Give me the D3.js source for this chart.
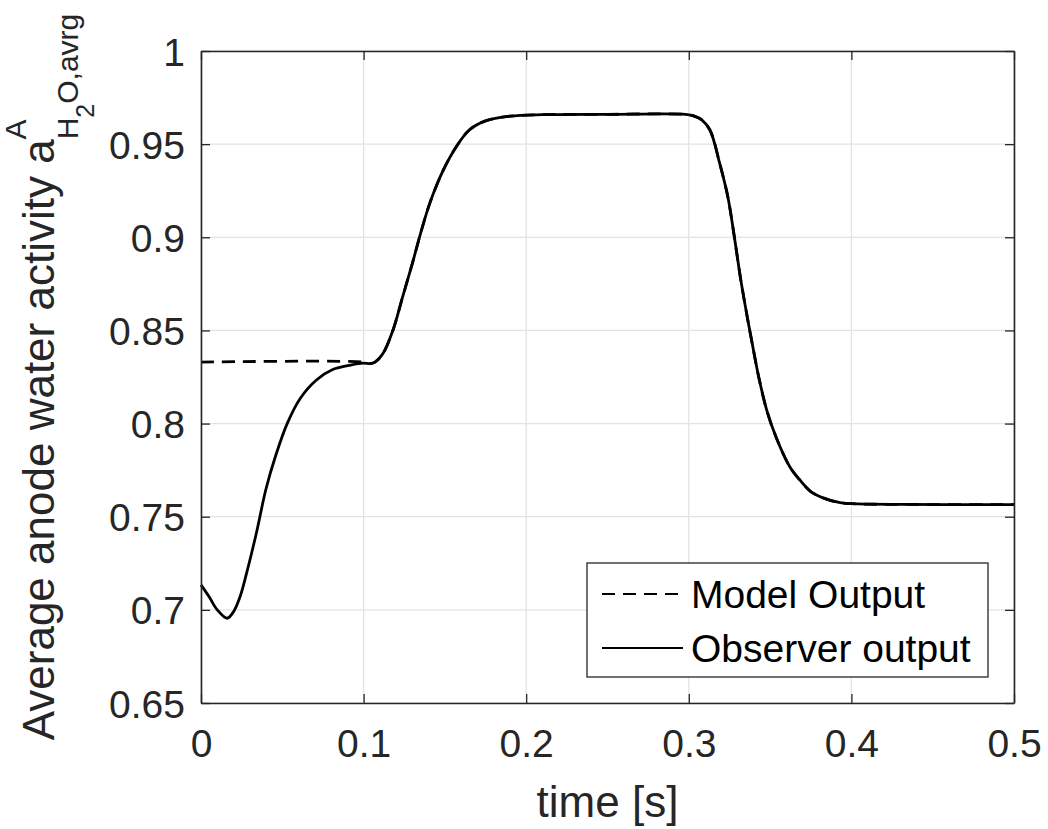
<!DOCTYPE html>
<html>
<head>
<meta charset="utf-8">
<script src="https://cdn.jsdelivr.net/npm/d3@7"></script>
<style>
  body { margin: 0; background: #fff; }
  text { font-family: "Liberation Sans", Arial, sans-serif; fill: #262626; }
</style>
</head>
<body>
<div class="chart"></div>
<script>
// observer output
var obsTime = [0, 0.005, 0.010, 0.016, 0.020, 0.024, 0.028, 0.034, 0.040, 0.046, 0.053, 0.061, 0.071, 0.081, 0.092, 0.100,
  0.104, 0.107, 0.112, 0.118, 0.124, 0.130, 0.135, 0.141, 0.149, 0.157, 0.165, 0.175, 0.190, 0.210, 0.250, 0.298,
  0.303, 0.308, 0.313, 0.319, 0.324, 0.328, 0.332, 0.336, 0.339, 0.343, 0.348, 0.354, 0.362, 0.368, 0.375, 0.383,
  0.393, 0.400, 0.430, 0.500];
var obsVal = [0.7134, 0.707, 0.700, 0.6955, 0.699, 0.707, 0.7196, 0.741, 0.765, 0.783, 0.800, 0.8135, 0.8234, 0.829, 0.8314, 0.8324,
  0.8322, 0.8330, 0.8377, 0.850, 0.868, 0.886, 0.902, 0.919, 0.936, 0.9486, 0.9576, 0.9625, 0.9650, 0.9658, 0.9660, 0.9660,
  0.9652, 0.9630, 0.9576, 0.9397, 0.9218, 0.9003, 0.877, 0.857, 0.843, 0.825, 0.807, 0.792, 0.777, 0.770, 0.7635, 0.760,
  0.7575, 0.757, 0.7566, 0.7565];
// model output: flat at start, then on top of the observer
var modelTime = [0, 0.100];
var modelVal = [0.833, 0.833];
var xTicks = [0, 0.1, 0.2, 0.3, 0.4, 0.5];
var yTicks = [0.65, 0.7, 0.75, 0.8, 0.85, 0.9, 0.95, 1];
var legendNames = ["Model Output", "Observer output"];

var margin = {top: 51, right: 34, bottom: 126, left: 201};
var W = 1048, H = 829;
var width = W - margin.left - margin.right;
var height = H - margin.top - margin.bottom;
var axisColor = "#262626";
var tickFont = "39px", labelFont = "44px";

var svg = d3.select(".chart").append("svg")
    .attr("width", W)
    .attr("height", H);
var g = svg.append("g")
    .attr("transform", "translate(" + margin.left + "," + margin.top + ")");

var x = d3.scaleLinear().domain([0, 0.5]).range([0, width]);
var y = d3.scaleLinear().domain([0.65, 1]).range([height, 0]);

// grid
g.selectAll(".gx").data(xTicks).enter().append("line")
    .attr("x1", function(d) { return x(d); }).attr("x2", function(d) { return x(d); })
    .attr("y1", 0).attr("y2", height)
    .attr("stroke", "#e3e3e3").attr("stroke-width", 1.3);
g.selectAll(".gy").data(yTicks).enter().append("line")
    .attr("y1", function(d) { return y(d); }).attr("y2", function(d) { return y(d); })
    .attr("x1", 0).attr("x2", width)
    .attr("stroke", "#e3e3e3").attr("stroke-width", 1.3);

// lines
var line = d3.line()
    .curve(d3.curveCatmullRom.alpha(0.5))
    .x(function(d) { return x(d[0]); })
    .y(function(d) { return y(d[1]); });

var obsData = obsTime.map(function(t, i) { return [t, obsVal[i]]; });
var modelData = modelTime.map(function(t, i) { return [t, modelVal[i]]; })
    .concat(obsData.filter(function(d) { return d[0] > 0.103; }));

g.append("path")
    .attr("d", line(modelData))
    .attr("fill", "none").attr("stroke", "#000")
    .attr("stroke-width", 2.8)
    .attr("stroke-dasharray", "13,8");
g.append("path")
    .attr("d", line(obsData))
    .attr("fill", "none").attr("stroke", "#000")
    .attr("stroke-width", 2.8);

// axes (ticks inside, box)
var tickLen = 9;
var xAxisB = d3.axisBottom(x).tickValues(xTicks).tickSizeInner(-tickLen).tickSizeOuter(0)
    .tickFormat(function(d) { return d3.format("")(d); });
var yAxisL = d3.axisLeft(y).tickValues(yTicks).tickSizeInner(-tickLen).tickSizeOuter(0)
    .tickFormat(function(d) { return d3.format("")(d); });

var gxB = g.append("g").attr("transform", "translate(0," + height + ")").call(xAxisB);
var gyL = g.append("g").call(yAxisL);
var gxT = g.append("g").call(d3.axisTop(x).tickValues(xTicks).tickSizeInner(-tickLen).tickSizeOuter(0).tickFormat(""));
var gyR = g.append("g").attr("transform", "translate(" + width + ",0)")
    .call(d3.axisRight(y).tickValues(yTicks).tickSizeInner(-tickLen).tickSizeOuter(0).tickFormat(""));

[gxB, gyL, gxT, gyR].forEach(function(a) {
  a.select(".domain").attr("stroke", axisColor).attr("stroke-width", 1.6);
  a.selectAll(".tick line").attr("stroke", axisColor).attr("stroke-width", 1.3);
  a.selectAll("text").attr("fill", axisColor).style("font-size", tickFont)
    .style("font-family", "'Liberation Sans', Arial, sans-serif");
});
gxB.selectAll(".tick text").attr("dy", 0).attr("y", 54);
gyL.selectAll(".tick text").attr("x", -16).attr("dy", "0.36em");

// axis labels
g.append("text")
    .attr("x", width / 2).attr("y", height + 114)
    .attr("text-anchor", "middle")
    .style("font-size", labelFont)
    .text("time [s]");

var yl = svg.append("text")
    .attr("transform", "translate(54," + (margin.top + height / 2) + ") rotate(-90)")
    .attr("text-anchor", "middle")
    .style("font-size", labelFont);
yl.append("tspan").text("Average anode water activity a");
yl.append("tspan").attr("dy", -28).style("font-size", "30px").text("A");
yl.append("tspan").attr("dx", -20).attr("dy", 52).style("font-size", "30px").text("H");
yl.append("tspan").attr("dy", 16).style("font-size", "25px").text("2");
yl.append("tspan").attr("dy", -16).style("font-size", "30px").text("O,avrg");

// legend
var lg = g.append("g").attr("transform", "translate(" + (587 - margin.left) + "," + (563 - margin.top) + ")");
lg.append("rect")
    .attr("width", 401).attr("height", 114)
    .attr("fill", "#fff").attr("stroke", axisColor).attr("stroke-width", 1.3);
var rows = lg.selectAll(".row").data(legendNames).enter().append("g")
    .attr("transform", function(d, i) { return "translate(0," + (31 + i * 54) + ")"; });
rows.append("line")
    .attr("x1", 15).attr("x2", 96).attr("y1", 0).attr("y2", 0)
    .attr("stroke", "#000").attr("stroke-width", 2.2)
    .attr("stroke-dasharray", function(d, i) { return i == 0 ? "13,8" : null; });
rows.append("text")
    .attr("x", 104).attr("y", 0).attr("dy", "0.36em")
    .style("font-size", "39px")
    .style("fill", "#000")
    .text(function(d) { return d; });
</script>
</body>
</html>
